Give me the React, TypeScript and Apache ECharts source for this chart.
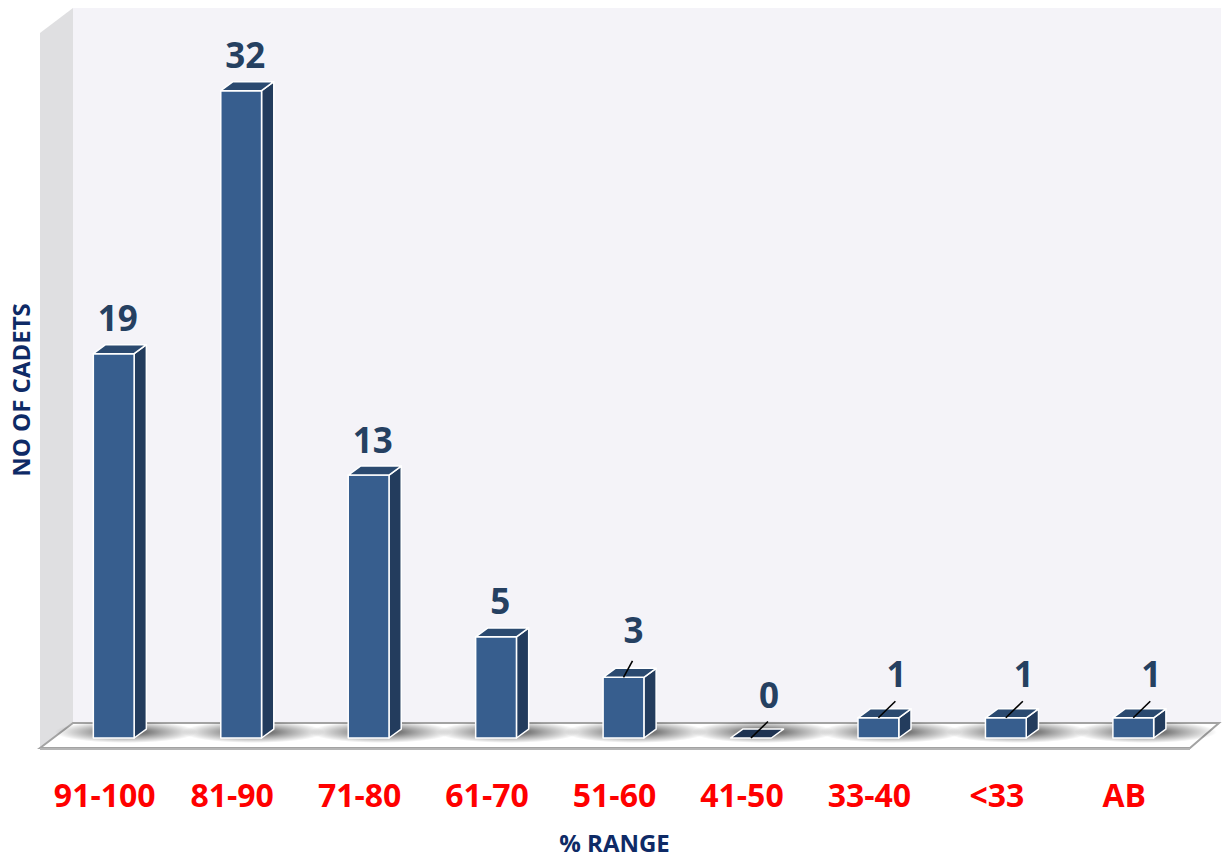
import React, { useEffect, useRef } from "react";
import * as echarts from "echarts";

const CATEGORIES = ["91-100", "81-90", "71-80", "61-70", "51-60", "41-50", "33-40", "<33", "AB"];
const CADETS = [19, 32, 13, 5, 3, 0, 1, 1, 1];
const Y_MAX = 35;
const X_TITLE = "% RANGE";
const Y_TITLE = "NO OF CADETS";

const FONT = "'Open Sans', 'Noto Sans', sans-serif";
const FRONT = "#375E8E";
const SIDE = "#233C5D";
const TOP = "#2B4A70";
const FLAT = "#1E3352";
const LABEL = "#254061";
const TITLE = "#0E2A66";
const SMALL = 3;

export default function App() {
  const ref = useRef<HTMLDivElement>(null);

  useEffect(() => {
    if (!ref.current) return;
    const chart = echarts.init(ref.current, undefined, { renderer: "svg" });
    const data = CADETS.map((v, i) => [i, v]);

    const option: any = {
      animation: false,
      backgroundColor: "#ffffff",
      grid: { left: 50, right: 26, top: 30, bottom: 117 },
      graphic: {
        z: -10,
        elements: [
          {
            type: "rect",
            silent: true,
            shape: { x: 73, y: 8, width: 1148, height: 715 },
            style: { fill: "#F4F3F8" },
          },
          {
            type: "polygon",
            silent: true,
            shape: { points: [[40, 33], [73, 8], [73, 723], [40, 748]] },
            style: { fill: "#DFDFE1" },
          },
          {
            type: "polygon",
            silent: true,
            shape: { points: [[40, 748], [73, 723], [1219, 723], [1190, 748]] },
            style: { fill: "#FFFFFF", stroke: "#A3A3A3", lineWidth: 2 },
          },
          {
            type: "line",
            silent: true,
            shape: { x1: 40, y1: 749, x2: 1190, y2: 749 },
            style: { stroke: "#B5B5B5", lineWidth: 2 },
          },
        ],
      },
      xAxis: {
        type: "category",
        data: CATEGORIES,
        axisLine: { show: false },
        axisTick: { show: false },
        splitLine: { show: false },
        axisLabel: {
          interval: 0,
          margin: 40,
          color: "#FF0000",
          fontSize: 32,
          fontWeight: "bold",
          fontFamily: FONT,
          padding: [0, 18, 0, 0],
        },
        name: X_TITLE,
        nameLocation: "middle",
        nameGap: 92,
        nameTextStyle: {
          color: TITLE,
          fontSize: 24,
          fontWeight: "bold",
          fontFamily: FONT,
          padding: [0, 18, 0, 0],
        },
      },
      yAxis: {
        type: "value",
        min: 0,
        max: Y_MAX,
        axisLine: { show: false },
        axisTick: { show: false },
        axisLabel: { show: false },
        splitLine: { show: false },
        name: Y_TITLE,
        nameLocation: "middle",
        nameRotate: 90,
        nameGap: 18,
        nameTextStyle: {
          color: TITLE,
          fontSize: 24,
          fontWeight: "bold",
          fontFamily: FONT,
          padding: [0, 12, 0, 0],
        },
      },
      series: [
        {
          type: "custom",
          name: "shadow",
          silent: true,
          z: 1,
          data,
          renderItem: (params: any, api: any) => {
            const i = api.value(0);
            const base = api.coord([i, 0]);
            const band = api.size([1, 0])[0];
            const w = band * 0.32;
            return {
              type: "ellipse",
              shape: { cx: base[0] + w * 0.3, cy: base[1] - 6, rx: w * 1.75, ry: 11 },
              style: {
                fill: {
                  type: "radial",
                  x: 0.5,
                  y: 0.5,
                  r: 0.5,
                  colorStops: [
                    { offset: 0, color: "rgba(0,0,0,0.75)" },
                    { offset: 0.5, color: "rgba(0,0,0,0.35)" },
                    { offset: 1, color: "rgba(0,0,0,0)" },
                  ],
                },
              },
            };
          },
        },
        {
          type: "custom",
          name: "cadets",
          z: 3,
          data,
          renderItem: (params: any, api: any) => {
            const i = api.value(0);
            const v = api.value(1);
            const base = api.coord([i, 0]);
            const top = api.coord([i, v]);
            const band = api.size([1, 0])[0];
            const w = band * 0.32;
            const dx = w * 0.3;
            const dy = -w * 0.22;
            const cx = base[0];
            const xl = cx - w / 2;
            const xr = cx + w / 2;
            const yb = base[1];
            const yt = top[1];
            const edge = { stroke: "#FFFFFF", lineWidth: 1.5, lineJoin: "round" };
            const children: any[] = [];
            if (v > 0) {
              children.push({
                type: "polygon",
                shape: { points: [[xr, yt], [xr + dx, yt + dy], [xr + dx, yb + dy], [xr, yb]] },
                style: { fill: SIDE, ...edge },
              });
              children.push({
                type: "rect",
                shape: { x: xl, y: yt, width: w, height: yb - yt },
                style: { fill: FRONT, ...edge },
              });
            }
            children.push({
              type: "polygon",
              shape: { points: [[xl, yt], [xl + dx, yt + dy], [xr + dx, yt + dy], [xr, yt]] },
              style: { fill: v > 0 ? TOP : FLAT, ...edge },
            });
            if (v <= SMALL) {
              const nudge = v >= SMALL ? 9 : 17;
              const lift = v >= SMALL ? 48 : 44;
              children.push({
                type: "line",
                shape: { x1: cx, y1: yt, x2: cx + nudge, y2: yt - 16.5 },
                style: { stroke: "#000000", lineWidth: 1.6 },
              });
              children.push({
                type: "text",
                style: {
                  text: String(v),
                  x: cx + nudge + 1,
                  y: yt - lift,
                  textAlign: "center",
                  textVerticalAlign: "middle",
                  fill: LABEL,
                  fontSize: 35,
                  fontWeight: "bold",
                  fontFamily: FONT,
                },
              });
            } else {
              children.push({
                type: "text",
                style: {
                  text: String(v),
                  x: cx + dx / 2 - 2,
                  y: yt - 36,
                  textAlign: "center",
                  textVerticalAlign: "middle",
                  fill: LABEL,
                  fontSize: 35,
                  fontWeight: "bold",
                  fontFamily: FONT,
                },
              });
            }
            return { type: "group", children };
          },
        },
      ],
    };

    chart.setOption(option);
    return () => chart.dispose();
  }, []);

  return (
    <div
      ref={ref}
      style={{ position: "fixed", left: 0, top: 0, width: 1223, height: 859 }}
    />
  );
}
